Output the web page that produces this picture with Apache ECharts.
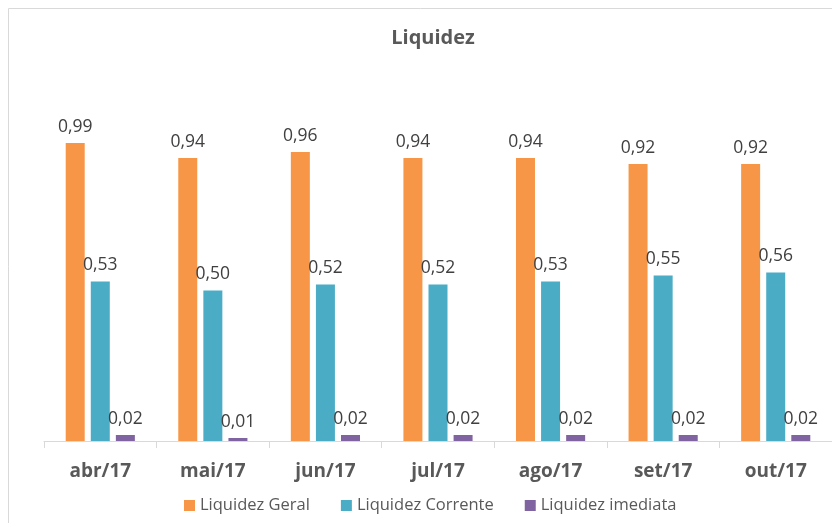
<!DOCTYPE html>
<html><head><meta charset="utf-8">
<script src="https://cdn.jsdelivr.net/npm/echarts@6/dist/echarts.min.js"></script>
<style>html,body{margin:0;padding:0;background:#fff}#c{width:832px;height:523px}</style>
</head><body><div id="c"></div>
<script>
const categories = ['abr/17','mai/17','jun/17','jul/17','ago/17','set/17','out/17'];
const liquidezGeral = [0.99,0.94,0.96,0.94,0.94,0.92,0.92];
const liquidezCorrente = [0.53,0.50,0.52,0.52,0.53,0.55,0.56];
const liquidezImediata = [0.02,0.01,0.02,0.02,0.02,0.02,0.02];
const seriesNames = ['Liquidez Geral','Liquidez Corrente','Liquidez imediata'];
const colors = ['#F79646','#4BACC6','#8064A2'];

const font = '"Open Sans", "Noto Sans", sans-serif';
const chart = echarts.init(document.getElementById('c'));
const label = {
  show: true, position: 'top', distance: 7, color: '#404040', fontSize: 17.5, fontFamily: font,
  formatter: p => p.value.toFixed(2).replace('.', ',')
};
const mk = (name, data, i) => ({
  name, type: 'bar', data, barWidth: 19, barGap: '32%',
  itemStyle: { color: colors[i] }, label
});
chart.setOption({
  animation: false,
  title: { text: 'Liquidez', left: 428, top: 23, textAlign: 'center',
    textStyle: { fontFamily: font, fontSize: 20, fontWeight: 'bold', color: '#595959' } },
  graphic: [{ type: 'rect', shape: { x: 8.5, y: 8.5, width: 900, height: 600 },
    style: { fill: 'none', stroke: '#d9d9d9', lineWidth: 1 }, silent: true, z: -1 }],
  legend: { left: 179, top: 492, itemWidth: 11, itemHeight: 11, itemGap: 31, icon: 'rect',
    textStyle: { fontFamily: font, fontSize: 16.5, color: '#595959' }, data: seriesNames },
  grid: { left: 44, top: 140, width: 791, height: 301 },
  xAxis: { type: 'category', data: categories, boundaryGap: true,
    axisLine: { lineStyle: { color: '#d9d9d9' } },
    axisTick: { show: true, length: 7, lineStyle: { color: '#d9d9d9' } },
    axisLabel: { fontFamily: font, fontSize: 19, fontWeight: 'bold', color: '#595959', margin: 21 } },
  yAxis: { type: 'value', min: 0, max: 1, show: false, splitLine: { show: false } },
  series: [mk(seriesNames[0], liquidezGeral, 0), mk(seriesNames[1], liquidezCorrente, 1), mk(seriesNames[2], liquidezImediata, 2)]
});
</script></body></html>
